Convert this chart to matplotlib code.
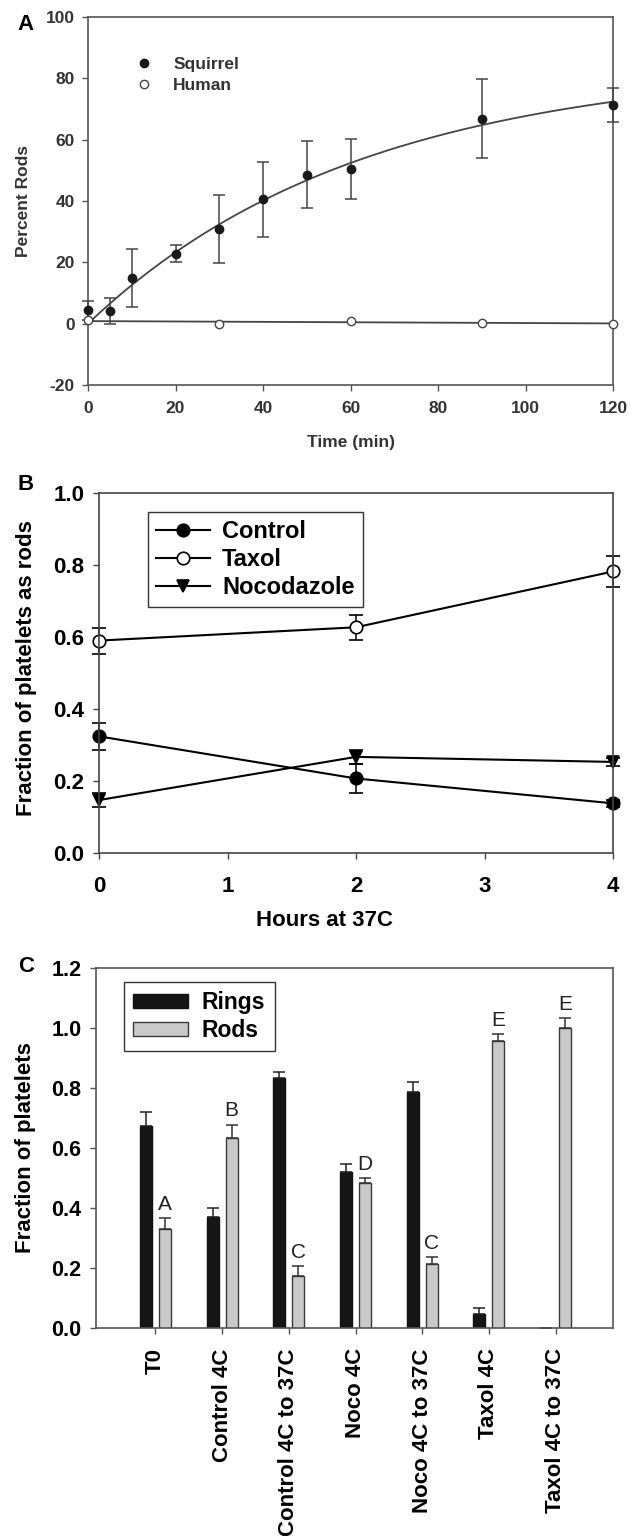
import numpy as np
import matplotlib
matplotlib.use("Agg")
import matplotlib.pyplot as plt
from matplotlib.lines import Line2D
from matplotlib.patches import Patch

plt.rcParams["font.family"] = ["Liberation Sans", "DejaVu Sans"]
plt.rcParams["font.weight"] = "bold"
plt.rcParams["axes.labelweight"] = "bold"
plt.rcParams["axes.unicode_minus"] = False

# Panel A: percent rods over time
time_min = [0, 5, 10, 20, 30, 40, 50, 60, 90, 120]
squirrel = [4.3, 4.1, 14.9, 22.8, 30.9, 40.5, 48.6, 50.3, 66.8, 71.3]
squirrel_err = [3.0, 4.2, 9.5, 2.8, 11.2, 12.2, 11.0, 9.8, 12.9, 5.5]
human_time = [0, 30, 60, 90, 120]
human = [1.1, 0.0, 0.9, 0.3, 0.0]

# Panel B: fraction of platelets as rods
hours = [0, 2, 4]
control = [0.324, 0.207, 0.138]
control_err = [0.038, 0.04, 0.01]
taxol = [0.59, 0.627, 0.782]
taxol_err = [0.036, 0.034, 0.044]
noco = [0.147, 0.267, 0.253]
noco_err = [0.02, 0.02, 0.01]

# Panel C: rings vs rods
groups = ["T0", "Control 4C", "Control 4C to 37C", "Noco 4C",
          "Noco 4C to 37C", "Taxol 4C", "Taxol 4C to 37C"]
rings = [0.674, 0.37, 0.833, 0.521, 0.788, 0.047, 0.0]
rings_err = [0.046, 0.03, 0.02, 0.026, 0.032, 0.02, 0.0]
rods = [0.329, 0.633, 0.173, 0.483, 0.215, 0.956, 1.0]
rods_err = [0.037, 0.045, 0.034, 0.017, 0.022, 0.024, 0.033]
letters = ["A", "B", "C", "D", "C", "E", "E"]

W, H = 637, 1536
fig = plt.figure(figsize=(W / 100, H / 100), dpi=100)


def px_axes(left, top, right, bottom):
    return fig.add_axes([left / W, 1 - bottom / H, (right - left) / W, (bottom - top) / H])


def unclip(cont):
    for art in cont.get_children():
        art.set_clip_on(False)


def style_axes(ax, color, size, width=1.2):
    for sp in ax.spines.values():
        sp.set_color(color)
        sp.set_linewidth(width)
    ax.tick_params(direction="out", length=4.5, width=1, color=color, labelsize=size)


# ---- panel A
gray = "#454545"
axA = px_axes(88, 17, 613, 385)

# exponential rise to max, fitted to the squirrel points (a * (1 - exp(-b t)))
t = np.array(time_min, dtype=float)
y = np.array(squirrel, dtype=float)
best = None
for b in np.linspace(0.002, 0.08, 800):
    g = 1 - np.exp(-b * t)
    a = g @ y / (g @ g)
    sse = np.sum((a * g - y) ** 2)
    if best is None or sse < best[0]:
        best = (sse, a, b)
_, a_fit, b_fit = best
tt = np.linspace(0, 120, 200)
axA.plot(tt, a_fit * (1 - np.exp(-b_fit * tt)), color=gray, lw=1.3, zorder=2)
hcoef = np.polyfit(human_time, human, 1)
axA.plot([0, 120], np.polyval(hcoef, [0, 120]), color=gray, lw=1.3, zorder=2)

eb = axA.errorbar(time_min, squirrel, yerr=squirrel_err, fmt="o", color="#1a1a1a",
                  ms=6, ecolor=gray, elinewidth=1.1, capsize=4.5, capthick=1.1, zorder=3)
unclip(eb)
axA.plot(human_time, human, "o", mfc="white", mec=gray, mew=1, ms=6, clip_on=False, zorder=4)

axA.set_xlim(0, 120)
axA.set_ylim(-20, 100)
axA.set_xticks([0, 20, 40, 60, 80, 100, 120])
axA.set_yticks([-20, 0, 20, 40, 60, 80, 100])
style_axes(axA, "#555555", 12.5)
axA.tick_params(labelcolor="#333333")
axA.tick_params(axis="y", pad=5)
axA.tick_params(axis="x", pad=7)

legA = [Line2D([], [], ls="none", marker="o", color="#1a1a1a", ms=6, label="Squirrel"),
        Line2D([], [], ls="none", marker="o", mfc="white", mec=gray, ms=6, label="Human")]
leg = axA.legend(handles=legA, loc="upper left", bbox_to_anchor=(0.06, 0.935), frameon=False,
                 fontsize=12.5, handlelength=1.0, handletextpad=1.2, labelspacing=0.35)
for txt in leg.get_texts():
    txt.set_color("#333333")

fig.text(351 / W, 1 - 443 / H, "Time (min)", ha="center", va="center", fontsize=12.5, color="#333333")
fig.text(24 / W, 1 - 201 / H, "Percent Rods", ha="center", va="center", rotation=90,
         fontsize=12.5, color="#333333")
fig.text(26 / W, 1 - 25 / H, "A", ha="center", va="center", fontsize=16)

# ---- panel B
axB = px_axes(99, 493, 613, 853)
series = [(control, control_err, "o", "black", "Control"),
          (taxol, taxol_err, "o", "white", "Taxol"),
          (noco, noco_err, "v", "black", "Nocodazole")]
handles = []
for vals, errs, mk, face, name in series:
    eb = axB.errorbar(hours, vals, yerr=errs, color="black", marker=mk, ms=9, mfc=face,
                      mec="black", mew=1.2, lw=1.5, elinewidth=1.1, capsize=5, capthick=1.1)
    unclip(eb)
    handles.append(Line2D([], [], color="black", marker=mk, ms=9, mfc=face, mec="black",
                          mew=1.2, lw=1.5, label=name))
axB.set_xlim(0, 4)
axB.set_ylim(0, 1.0)
axB.set_xticks([0, 1, 2, 3, 4])
axB.set_yticks([0.0, 0.2, 0.4, 0.6, 0.8, 1.0])
axB.yaxis.set_major_formatter(matplotlib.ticker.FormatStrFormatter("%.1f"))
style_axes(axB, "#444444", 16)
axB.tick_params(axis="y", pad=6)
axB.tick_params(axis="x", pad=12)
legB = axB.legend(handles=handles, loc="upper left", bbox_to_anchor=(0.095, 0.947),
                  fancybox=False, edgecolor="#333333", framealpha=1, fontsize=17,
                  handlelength=2.3, borderpad=0.35, labelspacing=0.2, handletextpad=0.5,
                  borderaxespad=0)
legB.get_frame().set_linewidth(1.0)

fig.text(325 / W, 1 - 920 / H, "Hours at 37C", ha="center", va="center", fontsize=16)
fig.text(27 / W, 1 - 668 / H, "Fraction of platelets as rods", ha="center", va="center",
         rotation=90, fontsize=16)
fig.text(26 / W, 1 - 485 / H, "B", ha="center", va="center", fontsize=16)

# ---- panel C
axC = px_axes(96, 968, 613, 1328)
x = np.arange(len(groups))
off = 0.143
bw = 0.18
axC.bar(x - off, rings, bw, color="#161616", edgecolor="#111111", lw=1,
        yerr=[np.zeros(len(rings)), rings_err], ecolor="#222222",
        error_kw=dict(elinewidth=1.1, capsize=4.5, capthick=1.1))
axC.bar(x + off, rods, bw, color="#c9c9c9", edgecolor="#3a3a3a", lw=1,
        yerr=[np.zeros(len(rods)), rods_err], ecolor="#333333",
        error_kw=dict(elinewidth=1.1, capsize=4.5, capthick=1.1))
for xi, v, e, lab in zip(x, rods, rods_err, letters):
    axC.annotate(lab, (xi + off, v + e), xytext=(0, 3), textcoords="offset points",
                 ha="center", va="bottom", fontsize=15, fontweight="normal", color="#222222")
axC.set_xlim(-0.89, 6.86)
axC.set_ylim(0, 1.2)
axC.set_xticks(x)
axC.set_xticklabels(groups, rotation=90)
axC.set_yticks([0.0, 0.2, 0.4, 0.6, 0.8, 1.0, 1.2])
axC.yaxis.set_major_formatter(matplotlib.ticker.FormatStrFormatter("%.1f"))
style_axes(axC, "#555555", 15.5)
axC.tick_params(axis="x", labelsize=16, pad=10)
axC.tick_params(axis="y", pad=6)
legC = axC.legend(handles=[Patch(facecolor="#161616", edgecolor="#111111", label="Rings"),
                           Patch(facecolor="#c9c9c9", edgecolor="#3a3a3a", label="Rods")],
                  loc="upper left", bbox_to_anchor=(0.054, 0.961), fancybox=False,
                  edgecolor="#333333", framealpha=1, fontsize=16.5, handlelength=2.4,
                  handleheight=0.55, borderpad=0.4, labelspacing=0.2, handletextpad=0.6,
                  borderaxespad=0)
legC.get_frame().set_linewidth(1.0)

fig.text(26 / W, 1 - 1148 / H, "Fraction of platelets", ha="center", va="center",
         rotation=90, fontsize=16)
fig.text(26 / W, 1 - 967 / H, "C", ha="center", va="center", fontsize=16)

fig.savefig("out.png", dpi=100, facecolor="white")
